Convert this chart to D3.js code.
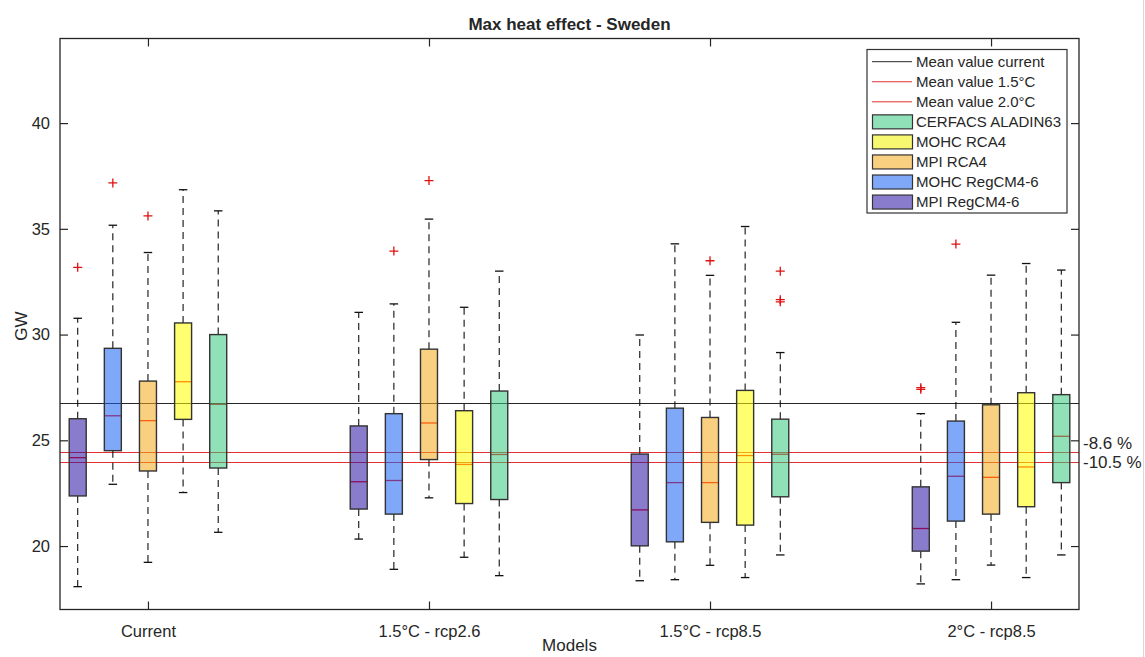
<!DOCTYPE html>
<html>
<head>
<meta charset="utf-8">
<script src="https://cdn.jsdelivr.net/npm/d3@7"></script>
<style>
  html, body { margin: 0; padding: 0; background: #fff; }
  svg text { font-family: "Liberation Sans", Arial, sans-serif; fill: #262626; }
</style>
</head>
<body>
<svg id="chart" width="1145" height="657"></svg>
<script>
// ---------------- DATA ----------------
const scenarios = ["Current", "1.5°C - rcp2.6", "1.5°C - rcp8.5", "2°C - rcp8.5"];
const models = ["MPI RegCM4-6", "MOHC RegCM4-6", "MPI RCA4", "MOHC RCA4", "CERFACS ALADIN63"];
const modelColors = ["#8a7ccc", "#80a8f8", "#f8d080", "#f8f870", "#90e0b8"];
// underlying (opaque) patch colours; drawn at ~0.56 opacity
const patchColors = ["#2e15a4", "#1d64f3", "#f3ab1d", "#ffff00", "#39c881"];

// [model][scenario]
const whiskerLow = [
  [18.08, 20.33, 18.36, 18.21],
  [22.92, 18.90, 18.41, 18.41],
  [19.23, 22.28, 19.09, 19.10],
  [22.53, 19.47, 18.51, 18.51],
  [20.65, 18.60, 19.58, 19.58]
];
const q1 = [
  [22.37, 21.75, 20.01, 19.76],
  [24.51, 21.51, 20.20, 21.18],
  [23.55, 24.09, 21.12, 21.51],
  [25.99, 22.01, 20.99, 21.86],
  [23.69, 22.20, 22.33, 23.00]
];
const median = [
  [24.18, 23.04, 21.71, 20.83],
  [26.16, 23.10, 23.00, 23.30],
  [25.93, 25.82, 23.00, 23.25],
  [27.77, 23.86, 24.28, 23.74],
  [26.70, 24.33, 24.34, 25.19]
];
const q3 = [
  [26.02, 25.68, 24.35, 22.80],
  [29.35, 26.26, 26.52, 25.91],
  [27.80, 29.31, 26.08, 26.68],
  [30.55, 26.40, 27.36, 27.25],
  [30.00, 27.33, 26.00, 27.16]
];
const whiskerHigh = [
  [30.77, 31.05, 29.98, 26.26],
  [35.17, 31.45, 34.29, 30.58],
  [33.88, 35.46, 32.80, 32.81],
  [36.85, 31.29, 35.11, 33.36],
  [35.85, 33.00, 29.15, 33.05]
];
const outliers = [
  [[33.18], [], [], [27.41, 27.49]],
  [[37.17], [33.95], [], [34.28]],
  [[35.61], [37.28], [33.49], []],
  [[], [], [], []],
  [[], [], [33.00, 31.65, 31.55], []]
];
const meanValues = [26.78, 24.45, 23.98];
const meanLabels = ["Mean value current", "Mean value 1.5°C", "Mean value 2.0°C"];
const meanColors = ["#262626", "#e03030", "#e03030"];
const pctLabels = ["-8.6 %", "-10.5 %"];
const yTicks = [20, 25, 30, 35, 40];

// ---------------- LAYOUT ----------------
const svg = d3.select("#chart");
const L = 60, R = 1079, T = 38.5, B = 609.5;
const x = d3.scaleLinear().domain([0.687, 4.313]).range([L, R]);
const y = d3.scaleLinear().domain([17, 44]).range([B, T]);
const offset = 0.125, boxW = 17;
const tickLen = 8;
const axisColor = "#262626";

// faint right edge line
svg.append("line").attr("x1", 1143.5).attr("x2", 1143.5).attr("y1", 0).attr("y2", 657)
  .attr("stroke", "#d8d8d8").attr("stroke-width", 1);

// axes with inward ticks
const fmtX = d => scenarios[d - 1];
const gxB = svg.append("g").attr("transform", `translate(0,${B})`)
  .call(d3.axisBottom(x).tickValues([1, 2, 3, 4]).tickFormat(fmtX).tickSize(-tickLen).tickPadding(16));
const gxT = svg.append("g").attr("transform", `translate(0,${T})`)
  .call(d3.axisTop(x).tickValues([1, 2, 3, 4]).tickFormat("").tickSize(-tickLen));
const gyL = svg.append("g").attr("transform", `translate(${L},0)`)
  .call(d3.axisLeft(y).tickValues(yTicks).tickSize(-tickLen).tickPadding(10));
const gyR = svg.append("g").attr("transform", `translate(${R},0)`)
  .call(d3.axisRight(y).tickValues(yTicks).tickFormat("").tickSize(-tickLen));
[gxB, gxT, gyL, gyR].forEach(g => {
  g.select(".domain").remove();
  g.selectAll(".tick line").attr("stroke", axisColor).attr("stroke-width", 1.2);
  g.selectAll(".tick text").attr("font-size", 16.5).attr("fill", axisColor)
    .style("font-family", '"Liberation Sans", Arial, sans-serif');
});
gxB.selectAll(".tick text").attr("dy", "0.71em");

// mean lines
svg.append("g").selectAll("line").data(meanValues).join("line")
  .attr("x1", L).attr("x2", R)
  .attr("y1", d => Math.round(y(d)) + 0.5).attr("y2", d => Math.round(y(d)) + 0.5)
  .attr("stroke", (d, i) => meanColors[i]).attr("stroke-width", 1.1);

// boxes
const boxes = [];
models.forEach((m, mi) => {
  scenarios.forEach((s, si) => {
    boxes.push({
      mi, si,
      pos: si + 1 + (mi - 2) * offset,
      lo: whiskerLow[mi][si], q1: q1[mi][si], med: median[mi][si],
      q3: q3[mi][si], hi: whiskerHigh[mi][si], out: outliers[mi][si]
    });
  });
});

const gb = svg.append("g");
const bx = gb.selectAll("g.box").data(boxes).join("g").attr("class", "box");
// whiskers dashed
bx.append("line")
  .attr("x1", d => x(d.pos)).attr("x2", d => x(d.pos))
  .attr("y1", d => y(d.q3)).attr("y2", d => y(d.hi))
  .attr("stroke", "#111").attr("stroke-width", 1.1).attr("stroke-dasharray", "7,5");
bx.append("line")
  .attr("x1", d => x(d.pos)).attr("x2", d => x(d.pos))
  .attr("y1", d => y(d.q1)).attr("y2", d => y(d.lo))
  .attr("stroke", "#111").attr("stroke-width", 1.1).attr("stroke-dasharray", "7,5");
// caps
bx.append("line")
  .attr("x1", d => x(d.pos) - boxW / 4).attr("x2", d => x(d.pos) + boxW / 4)
  .attr("y1", d => y(d.hi)).attr("y2", d => y(d.hi))
  .attr("stroke", "#111").attr("stroke-width", 1.3);
bx.append("line")
  .attr("x1", d => x(d.pos) - boxW / 4).attr("x2", d => x(d.pos) + boxW / 4)
  .attr("y1", d => y(d.lo)).attr("y2", d => y(d.lo))
  .attr("stroke", "#111").attr("stroke-width", 1.3);
// median (red) under patch
bx.append("line")
  .attr("x1", d => x(d.pos) - boxW / 2).attr("x2", d => x(d.pos) + boxW / 2)
  .attr("y1", d => y(d.med)).attr("y2", d => y(d.med))
  .attr("stroke", "#ff0000").attr("stroke-width", 1.3);
// semi-transparent patch
bx.append("rect")
  .attr("x", d => x(d.pos) - boxW / 2).attr("width", boxW)
  .attr("y", d => y(d.q3)).attr("height", d => y(d.q1) - y(d.q3))
  .attr("fill", d => patchColors[d.mi]).attr("fill-opacity", 0.56)
  .attr("stroke", "#333").attr("stroke-width", 1.4);
// outliers
bx.each(function (d) {
  d3.select(this).selectAll("path.out").data(d.out).join("path").attr("class", "out")
    .attr("d", v => {
      const cx = x(d.pos), cy = y(v);
      return `M${cx - 4.5},${cy}H${cx + 4.5}M${cx},${cy - 4.5}V${cy + 4.5}`;
    })
    .attr("stroke", "#e01010").attr("stroke-width", 1.3).attr("fill", "none");
});

// plot border
svg.append("rect").attr("x", L).attr("y", T).attr("width", R - L).attr("height", B - T)
  .attr("fill", "none").attr("stroke", axisColor).attr("stroke-width", 1.3);

// percentage labels
svg.append("text").attr("x", R + 4).attr("y", y(meanValues[1]) - 2.5)
  .attr("font-size", 17).text(pctLabels[0]);
svg.append("text").attr("x", R + 4).attr("y", y(meanValues[2]) + 6)
  .attr("font-size", 17).text(pctLabels[1]);

// title & axis labels
svg.append("text").attr("x", (L + R) / 2).attr("y", 30).attr("text-anchor", "middle")
  .attr("font-size", 17).attr("font-weight", "bold").attr("fill", "#111").text("Max heat effect - Sweden");
svg.append("text").attr("x", (L + R) / 2).attr("y", 651).attr("text-anchor", "middle")
  .attr("font-size", 17).text("Models");
svg.append("text").attr("transform", `translate(27,${y(30.4)}) rotate(-90)`).attr("text-anchor", "middle")
  .attr("font-size", 17).text("GW");

// legend
const lg = svg.append("g");
const lgX = 867, lgY = 49.5, lgW = 200, lgH = 163.5, rowH = 20.05, row0 = 61.7;
lg.append("rect").attr("x", lgX).attr("y", lgY).attr("width", lgW).attr("height", lgH)
  .attr("fill", "#fff").attr("stroke", "#333").attr("stroke-width", 1.2);
const legendItems = meanLabels.map((t, i) => ({ type: "line", label: t, color: meanColors[i] }))
  .concat(models.map((m, i) => ({ type: "patch", label: m, color: modelColors[i] })).reverse());
const li = lg.selectAll("g.li").data(legendItems).join("g").attr("class", "li")
  .attr("transform", (d, i) => `translate(0,${row0 + i * rowH})`);
li.filter(d => d.type === "line").append("line")
  .attr("x1", 872).attr("x2", 912).attr("y1", 0).attr("y2", 0)
  .attr("stroke", d => d.color).attr("stroke-width", 1);
li.filter(d => d.type === "patch").append("rect")
  .attr("x", 872.5).attr("y", -7).attr("width", 40).attr("height", 14)
  .attr("fill", d => d.color).attr("stroke", "#333").attr("stroke-width", 1.2);
li.append("text").attr("x", 916).attr("y", 5.3).attr("font-size", 15).text(d => d.label);
</script>
</body>
</html>
